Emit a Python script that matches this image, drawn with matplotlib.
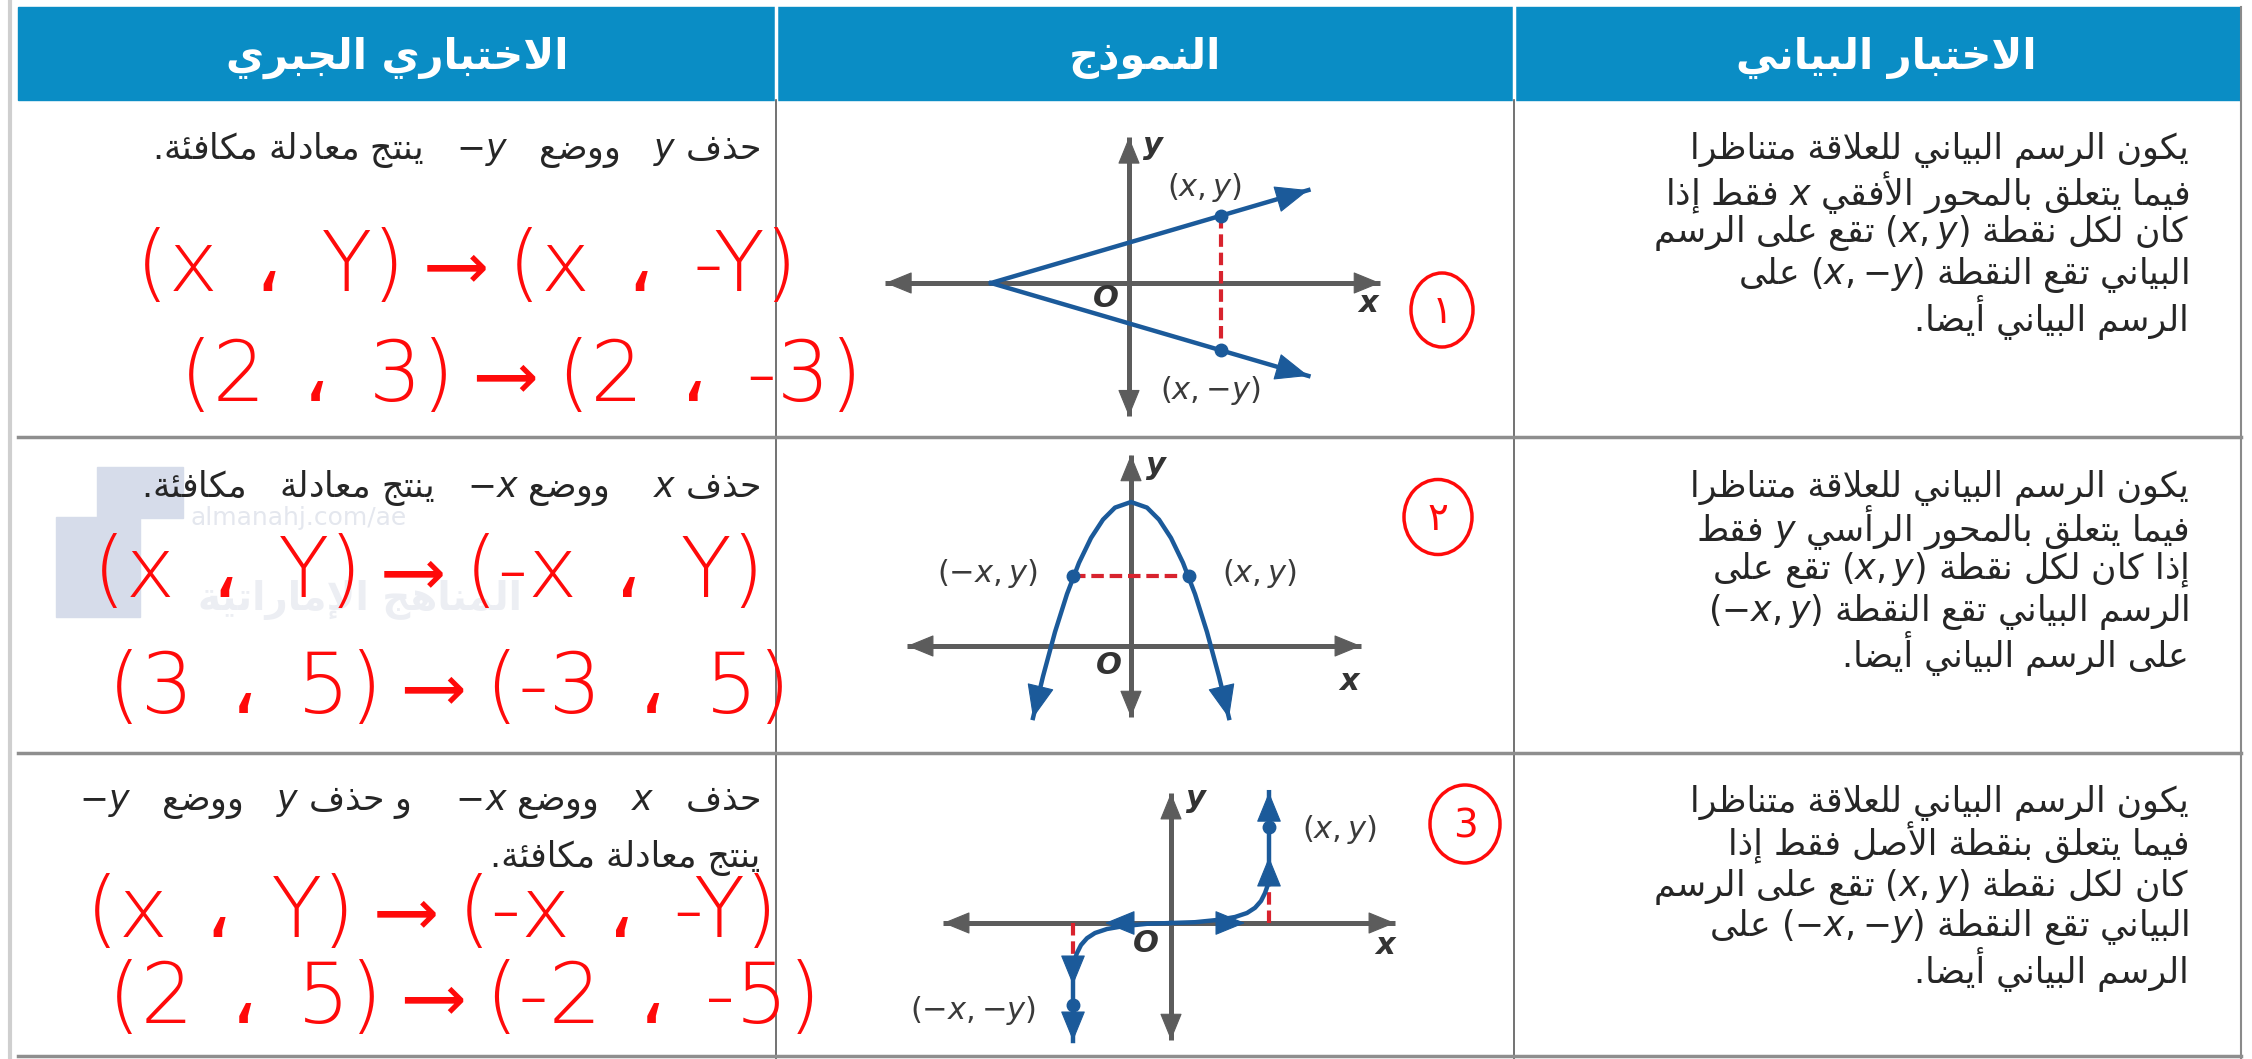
import re
import matplotlib
matplotlib.use('Agg')
import matplotlib.pyplot as plt
from matplotlib.patches import Rectangle, Ellipse

W, H = 2252, 1059

# ---- texts ----
HEADERS = ['الاختباري الجبري', 'النموذج', 'الاختبار البياني']
ALG_ROWS = [
    ['حذف y   ووضع   −y   ينتج معادلة مكافئة.'],
    ['حذف x    ووضع −x   ينتج معادلة   مكافئة.'],
    ['حذف   x   ووضع −x    و حذف y   ووضع   −y', 'ينتج معادلة مكافئة.'],
]
TEST_ROWS = [
    ['يكون الرسم البياني للعلاقة متناظرًا',
     'فيما يتعلق بالمحور الأفقي x فقط إذا',
     'كان لكل نقطة (x, y) تقع على الرسم',
     'البياني تقع النقطة (x, −y) على',
     'الرسم البياني أيضاً.'],
    ['يكون الرسم البياني للعلاقة متناظرًا',
     'فيما يتعلق بالمحور الرأسي y فقط',
     'إذا كان لكل نقطة (x, y) تقع على',
     'الرسم البياني تقع النقطة (−x, y)',
     'على الرسم البياني أيضاً.'],
    ['يكون الرسم البياني للعلاقة متناظرًا',
     'فيما يتعلق بنقطة الأصل فقط إذا',
     'كان لكل نقطة (x, y) تقع على الرسم',
     'البياني تقع النقطة (−x, −y) على',
     'الرسم البياني أيضاً.'],
]
HAND_ROWS = [
    ['(x ، Y) ⟶ (x ، -Y)', '(2 ، 3) ⟶ (2 ، -3)'],
    ['(x ، Y) ⟶ (-x ، Y)', '(3 ، 5) ⟶ (-3 ، 5)'],
    ['(x ، Y) ⟶ (-x ، -Y)', '(2 ، 5) ⟶ (-2 ، -5)'],
]
CIRCLE_DIGITS = ['١', '٢', '3']

# ---- graph data (math units) ----
# graph 1: two rays from a vertex on the x axis
G1_UP_X = [-3.0, 3.9]
G1_UP_Y = [0.0, 2.02]
G1_DN_X = [-3.0, 3.9]
G1_DN_Y = [0.0, -2.02]
G1_PT_X = [2.0, 2.0]
G1_PT_Y = [1.46, -1.46]
G1_LABELS = [('$(x,y)$', 1.65, 2.07), ('$(x,{-}y)$', 1.76, -2.33)]

# graph 2: downward parabola
G2_X = [-2.45, -2.2, -1.9, -1.6, -1.3, -1.0, -0.7, -0.4, 0.0,
        0.4, 0.7, 1.0, 1.3, 1.6, 1.9, 2.2, 2.45]
G2_Y = [-1.8, -0.76, 0.35, 1.3, 2.08, 2.7, 3.16, 3.46, 3.6,
        3.46, 3.16, 2.7, 2.08, 1.3, 0.35, -0.76, -1.8]
G2_PT_X = [-1.45, 1.45]
G2_PT_Y = [1.75, 1.75]
G2_LABELS = [('$({-}x,y)$', -3.6, 1.8), ('$(x,y)$', 3.2, 1.8)]

# graph 3: odd curve (symmetric about the origin)
G3_X = [0.0, 0.6, 1.2, 1.6, 1.9, 2.1, 2.25, 2.35, 2.42, 2.45, 2.45]
G3_Y = [0.0, 0.02, 0.08, 0.15, 0.25, 0.38, 0.55, 0.75, 0.95, 1.15, 3.27]
G3_NX = [0.0, -0.6, -1.2, -1.6, -1.9, -2.1, -2.25, -2.35, -2.42, -2.45, -2.45]
G3_NY = [0.0, -0.02, -0.08, -0.15, -0.25, -0.38, -0.55, -0.75, -0.95, -1.15, -2.95]
G3_PT_X = [2.45, -2.45]
G3_PT_Y = [2.4, -2.05]
G3_LABELS = [('$(x,y)$', 4.2, 2.33), ('$({-}x,{-}y)$', -4.95, -2.18)]

BLUE = '#1b5a9a'
AXGRAY = '#5c5c5c'
RED = '#d8232e'
PEN = '#ff0a0a'
HEAD_BLUE = '#0a8dc5'
INK = '#262626'

# ---- minimal Arabic shaping + bidi ----
DUAL = {'ئ': 0xFE89, 'ب': 0xFE8F, 'ت': 0xFE95, 'ث': 0xFE99, 'ج': 0xFE9D, 'ح': 0xFEA1,
        'خ': 0xFEA5, 'س': 0xFEB1, 'ش': 0xFEB5, 'ص': 0xFEB9, 'ض': 0xFEBD, 'ط': 0xFEC1,
        'ظ': 0xFEC5, 'ع': 0xFEC9, 'غ': 0xFECD, 'ف': 0xFED1, 'ق': 0xFED5, 'ك': 0xFED9,
        'ل': 0xFEDD, 'م': 0xFEE1, 'ن': 0xFEE5, 'ه': 0xFEE9, 'ي': 0xFEF1}
RIGHT = {'آ': 0xFE81, 'أ': 0xFE83, 'ؤ': 0xFE85, 'إ': 0xFE87, 'ا': 0xFE8D, 'ة': 0xFE93,
         'د': 0xFEA9, 'ذ': 0xFEAB, 'ر': 0xFEAD, 'ز': 0xFEAF, 'و': 0xFEED, 'ى': 0xFEEF}
LAMALEF = {'آ': 0xFEF5, 'أ': 0xFEF7, 'إ': 0xFEF9, 'ا': 0xFEFB}
LTR_RE = re.compile(r'\([^()]*\)|[A-Za-z0-9−]+')


def shape(s):
    s = ''.join(c for c in s if not ('\u064b' <= c <= '\u0652'))
    out = []
    i = 0
    while i < len(s):
        c = s[i]
        prev = s[i - 1] if i > 0 else ''
        if c == 'ل' and i + 1 < len(s) and s[i + 1] in LAMALEF:
            out.append(chr(LAMALEF[s[i + 1]] + (1 if prev in DUAL else 0)))
            i += 2
            continue
        if c in DUAL or c in RIGHT:
            jp = prev in DUAL
            nxt = s[i + 1] if i + 1 < len(s) else ''
            jn = c in DUAL and (nxt in DUAL or nxt in RIGHT)
            if c in DUAL:
                form = 3 if (jp and jn) else 1 if jp else 2 if jn else 0
                out.append(chr(DUAL[c] + form))
            else:
                out.append(chr(RIGHT[c] + (1 if jp else 0)))
        else:
            out.append(c)
        i += 1
    return ''.join(out)


def visual(s):
    parts, pos = [], 0
    for m in LTR_RE.finditer(s):
        if m.start() > pos:
            parts.append(shape(s[pos:m.start()])[::-1])
        t = m.group().replace('−', '{-}').replace(' ', '')
        parts.append('$' + t + '$')
        pos = m.end()
    if pos < len(s):
        parts.append(shape(s[pos:])[::-1])
    return ''.join(reversed(parts))


plt.rcParams['font.family'] = ['DejaVu Sans']
plt.rcParams['mathtext.fontset'] = 'dejavusans'

fig = plt.figure(figsize=(W / 100, H / 100), dpi=100)
ax = fig.add_axes([0, 0, 1, 1])
ax.set_xlim(0, W)
ax.set_ylim(H, 0)
ax.axis('off')

# ---- table frame ----
ax.plot([10, 10], [0, H], color='#cfcfcf', lw=3)
ax.add_patch(Rectangle((18, 7), 2222, 93, color=HEAD_BLUE, zorder=1))
for xc in [776, 1514]:
    ax.plot([xc, xc], [7, 100], color='white', lw=2.5, zorder=2)
    ax.plot([xc, xc], [100, H], color='#5a5a5a', lw=1.2, zorder=2)
ax.plot([2241, 2241], [7, H], color='#8a8a8a', lw=1.5, zorder=2)
for yr in [437, 753, 1056]:
    ax.plot([18, 2241], [yr, yr], color='#8e8e8e', lw=2.5, zorder=2)

# headers
for txt, xc in zip(HEADERS, [397, 1145, 1886]):
    ax.text(xc, 58, visual(txt), color='white', fontsize=30, fontweight='bold',
            ha='center', va='center', zorder=3)

# watermark
ax.add_patch(Rectangle((97, 467), 86, 51, color='#d6dcea', zorder=1))
ax.add_patch(Rectangle((56, 517), 84, 100, color='#d6dcea', zorder=1))
ax.text(190, 518, 'almanahj.com/ae', color='#e4e7ee', fontsize=18, ha='left',
        va='center', zorder=1.5)
ax.text(360, 600, visual('المناهج الإماراتية'), color='#eceef3', fontsize=28,
        fontweight='bold', ha='center', va='center', zorder=1.5)

# ---- right column text ----
TEST_Y = [[150, 192, 233, 275, 317], [488, 528, 570, 612, 653], [803, 843, 887, 927, 970]]
for lines, ys in zip(TEST_ROWS, TEST_Y):
    for line, y in zip(lines, ys):
        ax.text(2189, y, visual(line), color=INK, fontsize=25, ha='right',
                va='center', zorder=3)

# ---- left column text ----
ALG_Y = [[150], [488], [803, 858]]
for lines, ys in zip(ALG_ROWS, ALG_Y):
    for line, y in zip(lines, ys):
        ax.text(760, y, visual(line), color=INK, fontsize=25, ha='right',
                va='center', zorder=3)

# ---- handwriting ----
HAND_POS = [[(136, 268), (180, 378)], [(93, 574), (108, 690)], [(86, 914), (108, 1000)]]
for lines, pos in zip(HAND_ROWS, HAND_POS):
    for line, (x, y) in zip(lines, pos):
        ax.text(x, y, line, color=PEN, fontsize=60, fontweight='light',
                family=['DejaVu Sans', 'DejaVu Sans Mono', 'DejaVu Serif'],
                ha='left', va='center', zorder=4)

CIRCLES = [(1442, 310, 62, 74), (1438, 517, 68, 75), (1465, 824, 70, 78)]
for d, (cx, cy, w, h) in zip(CIRCLE_DIGITS, CIRCLES):
    ax.add_patch(Ellipse((cx, cy), w, h, fill=False, ec=PEN, lw=2.5, zorder=4))
    ax.text(cx, cy + 2, d, color=PEN, fontsize=28, ha='center', va='center', zorder=4)


# ---- graphs ----
def graph_axes(ox, oy, u, xr, yr):
    left = ox + xr[0] * u
    bottom = oy - yr[0] * u
    g = fig.add_axes([left / W, 1 - bottom / H, (xr[1] - xr[0]) * u / W,
                      (yr[1] - yr[0]) * u / H])
    g.set_xlim(*xr)
    g.set_ylim(*yr)
    g.axis('off')
    return g


def head(g, tip, frm, color, scale, hl=1.1, hw=0.45):
    g.annotate('', xy=tip, xytext=frm, annotation_clip=False,
               arrowprops=dict(arrowstyle='-|>,head_length=%s,head_width=%s' % (hl, hw),
                               color=color, lw=0.8, mutation_scale=scale,
                               shrinkA=0, shrinkB=0))


def draw_axes(g, xr, yr):
    g.plot(xr, [0, 0], color=AXGRAY, lw=3.6, clip_on=False, solid_capstyle='butt')
    g.plot([0, 0], yr, color=AXGRAY, lw=3.6, clip_on=False, solid_capstyle='butt')
    head(g, (xr[1], 0), (xr[1] - 0.3, 0), AXGRAY, 16)
    head(g, (xr[0], 0), (xr[0] + 0.3, 0), AXGRAY, 16)
    head(g, (0, yr[1]), (0, yr[1] - 0.3), AXGRAY, 16)
    head(g, (0, yr[0]), (0, yr[0] + 0.3), AXGRAY, 16)


def axis_names(g, o, xl, yl):
    lab = dict(color='#333333', fontsize=22, fontstyle='italic', fontweight='bold',
               ha='center', va='center')
    g.text(*o, 'O', **lab)
    g.text(*xl, 'x', **lab)
    g.text(*yl, 'y', **lab)


dash = dict(color=RED, lw=3, ls=(0, (3, 1.4)), clip_on=False)
pt = dict(color=BLUE, marker='o', ms=9, ls='none', clip_on=False, zorder=5)
lbl = dict(color='#3a3a3a', fontsize=22, ha='center', va='center')

# graph 1
xr1, yr1 = (-5.3, 5.46), (-2.9, 3.17)
g1 = graph_axes(1129, 283, 46, xr1, yr1)
draw_axes(g1, xr1, yr1)
g1.plot(G1_UP_X, G1_UP_Y, color=BLUE, lw=3.2, clip_on=False)
g1.plot(G1_DN_X, G1_DN_Y, color=BLUE, lw=3.2, clip_on=False)
head(g1, (G1_UP_X[1], G1_UP_Y[1]), (G1_UP_X[1] - 0.3, G1_UP_Y[1] - 0.088), BLUE, 20)
head(g1, (G1_DN_X[1], G1_DN_Y[1]), (G1_DN_X[1] - 0.3, G1_DN_Y[1] + 0.088), BLUE, 20)
g1.plot(G1_PT_X, G1_PT_Y, **dash)
g1.plot(G1_PT_X, G1_PT_Y, **pt)
for t, x, y in G1_LABELS:
    g1.text(x, y, t, **lbl)
axis_names(g1, (-0.5, -0.33), (5.2, -0.45), (0.52, 3.0))

# graph 2
xr2, yr2 = (-5.6, 5.75), (-1.78, 4.78)
g2 = graph_axes(1131, 646, 40, xr2, yr2)
draw_axes(g2, xr2, yr2)
g2.plot(G2_X, G2_Y, color=BLUE, lw=3.2, clip_on=False)
head(g2, (G2_X[0], G2_Y[0]), (G2_X[1], G2_Y[1]), BLUE, 20)
head(g2, (G2_X[-1], G2_Y[-1]), (G2_X[-2], G2_Y[-2]), BLUE, 20)
g2.plot(G2_PT_X, G2_PT_Y, **dash)
g2.plot(G2_PT_X, G2_PT_Y, **pt)
for t, x, y in G2_LABELS:
    g2.text(x, y, t, **lbl)
axis_names(g2, (-0.55, -0.48), (5.45, -0.9), (0.62, 4.5))

# graph 3
xr3, yr3 = (-5.7, 5.6), (-2.93, 3.25)
g3 = graph_axes(1171, 923, 40, xr3, yr3)
draw_axes(g3, xr3, yr3)
g3.plot([G3_X[-2], G3_X[-2]], [0, G3_Y[-2] - 0.1], **dash)
g3.plot([G3_NX[-2], G3_NX[-2]], [0, G3_NY[-2] + 0.1], **dash)
g3.plot(G3_X, G3_Y, color=BLUE, lw=3.2, clip_on=False)
g3.plot(G3_NX, G3_NY, color=BLUE, lw=3.2, clip_on=False)
head(g3, (G3_X[-1], G3_Y[-1]), (G3_X[-1], G3_Y[-1] - 0.3), BLUE, 18)
head(g3, (G3_X[-1], 1.65), (G3_X[-1], 1.35), BLUE, 18)
head(g3, (G3_NX[-1], G3_NY[-1]), (G3_NX[-1], G3_NY[-1] + 0.3), BLUE, 18)
head(g3, (G3_NX[-1], -1.55), (G3_NX[-1], -1.25), BLUE, 18)
head(g3, (1.85, 0.0), (1.55, 0.0), BLUE, 18)
head(g3, (-1.65, 0.0), (-1.35, 0.0), BLUE, 18)
g3.plot(G3_PT_X, G3_PT_Y, **pt)
for t, x, y in G3_LABELS:
    g3.text(x, y, t, **lbl)
axis_names(g3, (-0.63, -0.5), (5.35, -0.55), (0.63, 3.12))

fig.savefig('out.png', dpi=100, facecolor='white')
